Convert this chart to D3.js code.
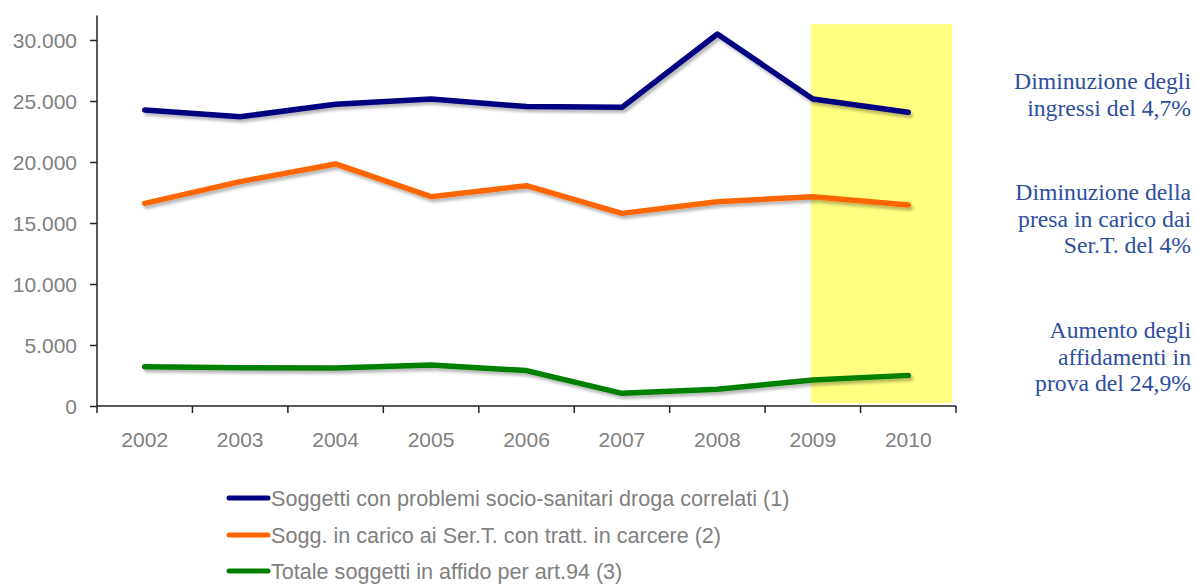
<!DOCTYPE html>
<html>
<head>
<meta charset="utf-8">
<script src="https://cdn.jsdelivr.net/npm/d3@7"></script>
<style>
  html, body { margin: 0; padding: 0; background: #fff; }
  svg { display: block; }
</style>
</head>
<body>
<svg id="chart" width="1196" height="584"></svg>
<script>
const years = ["2002","2003","2004","2005","2006","2007","2008","2009","2010"];
const seriesNames = [
  "Soggetti con problemi socio-sanitari droga correlati (1)",
  "Sogg. in carico ai Ser.T. con tratt. in carcere (2)",
  "Totale soggetti in affido per art.94 (3)"
];
const seriesColors = ["#000080", "#FF6600", "#008000"];
const problemiValues = [24260, 23710, 24730, 25160, 24540, 24480, 30490, 25160, 24070];
const carcereValues  = [16610, 18390, 19840, 17160, 18060, 15790, 16750, 17160, 16480];
const affidoValues   = [3220, 3140, 3120, 3360, 2900, 1040, 1370, 2130, 2510];
const yTicks = [0, 5000, 10000, 15000, 20000, 25000, 30000];
const highlightYears = ["2009", "2010"];
const annotations = [
  ["Diminuzione degli", "ingressi del 4,7%"],
  ["Diminuzione della", "presa in carico dai", "Ser.T. del 4%"],
  ["Aumento degli", "affidamenti in", "prova del 24,9%"]
];
const annotationTops = [89, 200, 338];

const seriesValues = [problemiValues, carcereValues, affidoValues];

const svg = d3.select("#chart");
const defs = svg.append("defs");
const f = defs.append("filter").attr("id", "shadow")
  .attr("x", "-10%").attr("y", "-50%").attr("width", "120%").attr("height", "200%");
f.append("feDropShadow").attr("dx", 2).attr("dy", 3).attr("stdDeviation", 1.8)
  .attr("flood-color", "#000").attr("flood-opacity", 0.28);

const plotLeft = 97, plotRight = 956, plotTop = 15.6, plotBottom = 406;
const x = d3.scaleBand().domain(years).range([plotLeft, plotRight]).padding(0);
const y = d3.scaleLinear().domain([0, 32000]).range([plotBottom, plotTop]);

const locale = d3.formatLocale({decimal: ",", thousands: ".", grouping: [3], currency: ["€", ""]});
const fmt = locale.format(",d");

// highlight rectangle
const hx0 = x(highlightYears[0]) + x.bandwidth() / 2 - 2;
const hx1 = x(highlightYears[1]) + x.bandwidth() - 4;
svg.append("rect")
  .attr("x", hx0)
  .attr("y", y(31300))
  .attr("width", hx1 - hx0)
  .attr("height", y(250) - y(31300))
  .attr("fill", "#FFFF80");

// y axis
const yAxis = svg.append("g").attr("transform", `translate(${plotLeft},0)`)
  .call(d3.axisLeft(y).tickValues(yTicks).tickFormat(fmt).tickSize(7).tickPadding(13));
yAxis.select(".domain").attr("d", `M0,${plotBottom}V${plotTop}`);
yAxis.selectAll("line, path").attr("stroke", "#222").attr("stroke-width", 1.5);
yAxis.selectAll("text").attr("fill", "#808080").attr("font-family", "Liberation Sans, Arial, sans-serif")
  .attr("font-size", 21).attr("dy", "0.36em");

// x axis
const xAxisG = svg.append("g").attr("transform", `translate(0,${plotBottom})`);
xAxisG.append("line").attr("x1", plotLeft).attr("x2", plotRight).attr("y1", 0).attr("y2", 0)
  .attr("stroke", "#222").attr("stroke-width", 1.5);
const bounds = years.map(d => x(d)).concat([plotRight]);
xAxisG.selectAll("line.tick").data(bounds).enter().append("line").attr("class", "tick")
  .attr("x1", d => d).attr("x2", d => d).attr("y1", 0).attr("y2", 7)
  .attr("stroke", "#222").attr("stroke-width", 1.5);
xAxisG.selectAll("text").data(years).enter().append("text")
  .attr("x", d => x(d) + x.bandwidth() / 2).attr("y", 41)
  .attr("text-anchor", "middle").attr("fill", "#808080")
  .attr("font-family", "Liberation Sans, Arial, sans-serif").attr("font-size", 21)
  .text(d => d);

// lines
const line = d3.line().x((d, i) => x(years[i]) + x.bandwidth() / 2).y(d => y(d));
svg.selectAll("path.series").data(seriesValues).enter().append("path").attr("class", "series")
  .attr("d", d => line(d)).attr("fill", "none")
  .attr("stroke", (d, i) => seriesColors[i]).attr("stroke-width", 5.5)
  .attr("stroke-linecap", "round").attr("stroke-linejoin", "round")
  .attr("filter", "url(#shadow)");

// legend
const legend = svg.append("g");
const legendY = [498, 535, 571];
seriesNames.forEach((name, i) => {
  legend.append("line").attr("x1", 229).attr("x2", 268).attr("y1", legendY[i]).attr("y2", legendY[i])
    .attr("stroke", seriesColors[i]).attr("stroke-width", 5).attr("stroke-linecap", "round");
  legend.append("text").attr("x", 271).attr("y", legendY[i]).attr("dy", "0.36em")
    .attr("fill", "#808080").attr("font-family", "Liberation Sans, Arial, sans-serif")
    .attr("font-size", 21.6).text(name);
});

// annotations
annotations.forEach((lines, gi) => {
  lines.forEach((t, li) => {
    svg.append("text").attr("x", 1191).attr("y", annotationTops[gi] + li * 26.5)
      .attr("text-anchor", "end").attr("fill", "#2E4E9E")
      .attr("font-family", "Liberation Serif, Times New Roman, serif").attr("font-size", 23.7)
      .text(t);
  });
});
</script>
</body>
</html>
